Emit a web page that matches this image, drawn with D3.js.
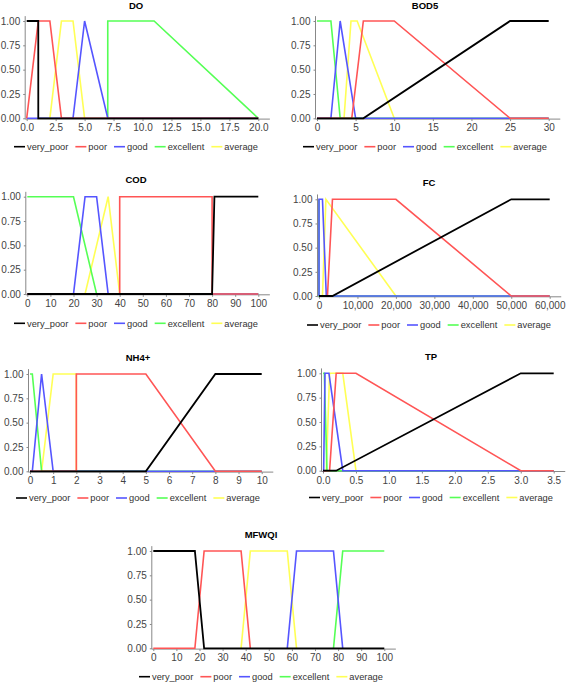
<!DOCTYPE html>
<html><head><meta charset="utf-8">
<script src="https://cdn.jsdelivr.net/npm/d3@7"></script>
<style>body{margin:0;background:#fff}</style></head>
<body>
<svg id="c" width="567" height="683"></svg>
<script>
// ---------- data ----------
const SERIES_NAMES = ["very_poor", "poor", "good", "excellent", "average"];
const SERIES_COLORS = ["#000000", "#ff5555", "#5555ff", "#55ff55", "#ffff55"];
const Y_TICKS = [0, 0.25, 0.5, 0.75, 1];

const TITLES = ["DO", "BOD5", "COD", "FC", "NH4+", "TP", "MFWQI"];

const DO_DOMAIN = [0, 20];
const DO_TICKS = [0, 2.5, 5, 7.5, 10, 12.5, 15, 17.5, 20];
const DO_SERIES = [
  [[0,1],[1,1],[1,0],[20,0]],
  [[0,0],[1,1],[2,1],[3,0],[20,0]],
  [[0,0],[4,0],[5,1],[7,0],[20,0]],
  [[7,0],[7,1],[11,1],[20,0]],
  [[2,0],[3,1],[4,1],[5,0]]
];

const BOD_DOMAIN = [0, 30];
const BOD_TICKS = [0, 5, 10, 15, 20, 25, 30];
const BOD_SERIES = [
  [[0,0],[6,0],[25,1],[30,1]],
  [[0,0],[4.5,0],[6,1],[10,1],[25,0],[30,0]],
  [[0,0],[1.8,0],[3,1],[5,0],[30,0]],
  [[0,1],[1.8,1],[3,0],[30,0]],
  [[3.5,0],[4.4,1],[5.2,1],[10,0]]
];

const COD_DOMAIN = [0, 100];
const COD_TICKS = [0, 10, 20, 30, 40, 50, 60, 70, 80, 90, 100];
const COD_SERIES = [
  [[0,0],[80,0],[81,1],[100,1]],
  [[0,0],[40,0],[40,1],[80,1],[80,0],[100,0]],
  [[0,0],[20,0],[25,1],[30,1],[35,0],[100,0]],
  [[0,1],[20,1],[30,0],[100,0]],
  [[25,0],[35,1],[40,0]]
];

const FC_DOMAIN = [0, 60000];
const FC_TICKS = [0, 10000, 20000, 30000, 40000, 50000, 60000];
const FC_SERIES = [
  [[0,0],[3500,0],[50000,1],[60000,1]],
  [[0,0],[2200,0],[3500,1],[20000,1],[50000,0],[60000,0]],
  [[0,0],[0,1],[900,1],[1900,0],[60000,0]],
  [[0,1],[0,0],[60000,0]],
  [[900,0],[1800,1],[20000,0]]
];

const NH4_DOMAIN = [0, 10];
const NH4_TICKS = [0, 1, 2, 3, 4, 5, 6, 7, 8, 9, 10];
const NH4_SERIES = [
  [[0,0],[5,0],[8,1],[10,1]],
  [[0,0],[2,0],[2,1],[5,1],[8,0],[10,0]],
  [[0,0],[0.1,0],[0.5,1],[1,0],[10,0]],
  [[0,1],[0.1,1],[0.5,0],[10,0]],
  [[0.5,0],[1,1],[2,1],[2,0]]
];

const TP_DOMAIN = [0, 3.5];
const TP_TICKS = [0, 0.5, 1, 1.5, 2, 2.5, 3, 3.5];
const TP_SERIES = [
  [[0,0],[0.2,0],[3,1],[3.5,1]],
  [[0,0],[0.1,0],[0.2,1],[0.5,1],[3,0],[3.5,0]],
  [[0,0],[0.01,0],[0.03,1],[0.09,1],[0.3,0],[3.5,0]],
  [[0,1],[0.02,1],[0.06,0],[3.5,0]],
  [[0.05,0],[0.1,1],[0.3,1],[0.5,0]]
];

const MF_DOMAIN = [0, 100];
const MF_TICKS = [0, 10, 20, 30, 40, 50, 60, 70, 80, 90, 100];
const MF_SERIES = [
  [[0,1],[18,1],[22,0],[100,0]],
  [[0,0],[18,0],[22,1],[38,1],[42,0]],
  [[58,0],[62,1],[78,1],[82,0]],
  [[78,0],[82,1],[100,1]],
  [[38,0],[42,1],[58,1],[62,0]]
];

// ---------- layout (pixel positions) ----------
const LAYOUT = [
  {x0:26.7, x1:258.3, y1:21,    y0:118.3, cx:136, ty:6,     ly:146.7},
  {x0:317,  x1:548.7, y1:21,    y0:118.3, cx:425, ty:6,     ly:146.7},
  {x0:27.3, x1:258.3, y1:196.7, y0:294,   cx:136, ty:180,   ly:323.3},
  {x0:319,  x1:549.7, y1:199.3, y0:296,   cx:429, ty:182.7, ly:325},
  {x0:30,   x1:261.7, y1:374,   y0:471.3, cx:138, ty:357.3, ly:498},
  {x0:323,  x1:553.7, y1:373.3, y0:470.7, cx:431, ty:356.7, ly:497.5},
  {x0:153.3,x1:384.3, y1:551,   y0:648.3, cx:261, ty:534.3, ly:676.7}
];

const DOMAINS = [DO_DOMAIN, BOD_DOMAIN, COD_DOMAIN, FC_DOMAIN, NH4_DOMAIN, TP_DOMAIN, MF_DOMAIN];
const TICKS = [DO_TICKS, BOD_TICKS, COD_TICKS, FC_TICKS, NH4_TICKS, TP_TICKS, MF_TICKS];
const SERIES = [DO_SERIES, BOD_SERIES, COD_SERIES, FC_SERIES, NH4_SERIES, TP_SERIES, MF_SERIES];
const FORMATS = [d3.format(".1f"), d3.format("d"), d3.format("d"), d3.format(",d"), d3.format("d"), d3.format(".1f"), d3.format("d")];

const svg = d3.select("#c");
const FONT = "'Liberation Sans', Arial, sans-serif";

TITLES.forEach((title, i) => {
  const L = LAYOUT[i];
  const g = svg.append("g");
  const x = d3.scaleLinear().domain(DOMAINS[i]).range([L.x0, L.x1]);
  const y = d3.scaleLinear().domain([0, 1]).range([L.y0, L.y1]);
  const axL = L.x0 - 1.5, axR = L.x1 + (L.x1 - L.x0) * 0.05;
  const axT = L.y1 - (L.y0 - L.y1) * 0.05, axB = L.y0 + 0.8;

  // title
  g.append("text").attr("x", L.cx).attr("y", L.ty).attr("dy", "0.35em")
    .attr("text-anchor", "middle").attr("font-family", FONT)
    .attr("font-weight", "bold").attr("font-size", "9.5px").text(title);

  // axes
  const xAxis = d3.axisBottom(x).tickValues(TICKS[i]).tickFormat(FORMATS[i]).tickSizeInner(2).tickSizeOuter(0).tickPadding(3);
  const gx = g.append("g").attr("transform", `translate(0,${axB})`).call(xAxis);
  gx.select(".domain").attr("d", `M${axL},0H${axR}`);
  const yAxis = d3.axisLeft(y).tickValues(Y_TICKS).tickFormat(d3.format(".2f")).tickSizeInner(2).tickSizeOuter(0).tickPadding(3);
  const gy = g.append("g").attr("transform", `translate(${axL},0)`).call(yAxis);
  gy.select(".domain").attr("d", `M0,${axB}V${axT}`);
  [gx, gy].forEach(a => {
    a.select(".domain").attr("stroke", "#888").attr("stroke-width", 1);
    a.selectAll(".tick line").attr("stroke", "#888");
    a.selectAll(".tick text").attr("font-family", FONT).attr("font-size", "10px").attr("fill", "#444");
  });

  // lines (drawn in reverse order: first series on top)
  const line = d3.line().x(d => x(d[0])).y(d => y(d[1]));
  const ser = SERIES[i];
  for (let s = ser.length - 1; s >= 0; s--) {
    g.append("path").datum(ser[s]).attr("d", line)
      .attr("fill", "none").attr("stroke", SERIES_COLORS[s])
      .attr("stroke-width", s === 0 ? 1.8 : 1.6).attr("stroke-linejoin", "miter");
  }

  // legend
  const lg = g.append("g");
  let cur = 0;
  SERIES_NAMES.forEach((nm, s) => {
    lg.append("line").attr("x1", cur).attr("x2", cur + 11).attr("y1", 0).attr("y2", 0)
      .attr("stroke", SERIES_COLORS[s]).attr("stroke-width", 1.6);
    const t = lg.append("text").attr("x", cur + 13).attr("y", 0).attr("dy", "0.35em")
      .attr("font-family", FONT).attr("font-size", "9.3px").attr("fill", "#333").text(nm);
    cur += 13 + t.node().getComputedTextLength() + 7;
  });
  const total = cur - 7;
  lg.attr("transform", `translate(${L.cx - total / 2},${L.ly})`);
});
</script>
</body></html>
